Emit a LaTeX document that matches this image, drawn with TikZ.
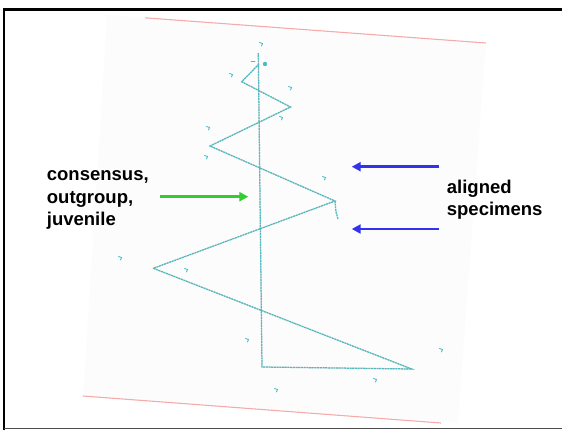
\documentclass[tikz,border=0pt]{standalone}
\usepackage{fontspec}
\setmainfont{Liberation Sans}
\usetikzlibrary{arrows.meta,positioning,calc}
\definecolor{Trace}{HTML}{48BCC0}
\definecolor{Ghost}{HTML}{F8D0D0}
\definecolor{Edge}{HTML}{F4ABAB}
\definecolor{Sheet}{HTML}{FDFCFC}
\definecolor{Cons}{HTML}{33CC33}
\definecolor{Spec}{HTML}{3333EE}

\begin{document}
\begin{tikzpicture}[x=1pt,y=-1pt,>=Stealth,
  trace/.style={Trace,line width=1.25pt,dash pattern=on 2pt off 0.7pt},
  ghost/.style={Ghost,line width=1pt,shift={(0.8,1.4)}},
  scrib/.style={Trace,line width=0.9pt,line cap=round},
  lbl/.style={font=\bfseries\fontsize{18.5}{22.3}\selectfont,align=left,inner sep=0pt,anchor=base west},
  cue/.style={line width=2.6pt,-{Triangle[length=9pt,width=9pt]}}]
\useasboundingbox (0,0) rectangle (562,429);
% frame
\draw[black,line width=2.4pt] (563,9.5) -- (3.7,9.5) -- (3.7,430);
\draw[black!70,line width=1pt] (3.7,428) -- (563,428);
% scanned sheet
\fill[Sheet] (107,15) -- (486,43) -- (458,423) -- (83,396) -- cycle;
\draw[Edge,line width=1.1pt] (145,17.8) -- (486,43);
\draw[Edge,line width=1.1pt] (83,396) -- (441,423);
% zigzag points
\coordinate (apex) at (258.3,53);
\coordinate (foot) at (262,367);
\coordinate (z0) at (259,64);
\coordinate (z1) at (241.7,81.7);
\coordinate (z2) at (290.5,107);
\coordinate (z3) at (210,146);
\coordinate (z4) at (335,201);
\coordinate (z5) at (153.3,268.3);
\coordinate (z6) at (411.7,369);
\draw[ghost] (z0) -- (z1) -- (z2) -- (z3) -- (z4) -- (z5) -- (z6) -- (foot) -- (apex);
\draw[trace] (z0) -- (z1) -- (z2) -- (z3) -- (z4) -- (z5) -- (z6) -- (foot) -- (apex);
\draw[trace] (z4) -- ++(1,11) -- ++(2,7);
\draw[scrib] (251,61.5) -- (255,61.5);
\fill[Trace] (265,64) circle (2.2);
% specimen scribbles
\foreach \p in {(261,44),(231,75),(290,88),(281,118),(208,128),(206,157),(324,178),(120,258),(186,270),(247,340),(441,350),(375,380),(276,390)}
  \draw[scrib] \p ++(-1.5,-1.5) -- ++(3,1) -- ++(-1,2.5);
% labels
\node[lbl] (cons) at (46.7,225.3) {consensus,\\outgroup,\\juvenile};
\node[lbl] (spec) at (446.7,215.6) {aligned\\specimens};
% arrows
\coordinate (consTail) at (160,196.7);
\coordinate (consTip) at (248.3,196.7);
\coordinate (specTailA) at (439.3,166.7);
\coordinate (specTipA) at (351.7,166.7);
\coordinate (specTailB) at (439.3,229);
\coordinate (specTipB) at (351.7,229);
\draw[cue,Cons] (consTail) -- (consTip);
\draw[cue,Spec] (specTailA) -- (specTipA);
\draw[cue,Spec] (specTailB) -- (specTipB);
\end{tikzpicture}
\end{document}
